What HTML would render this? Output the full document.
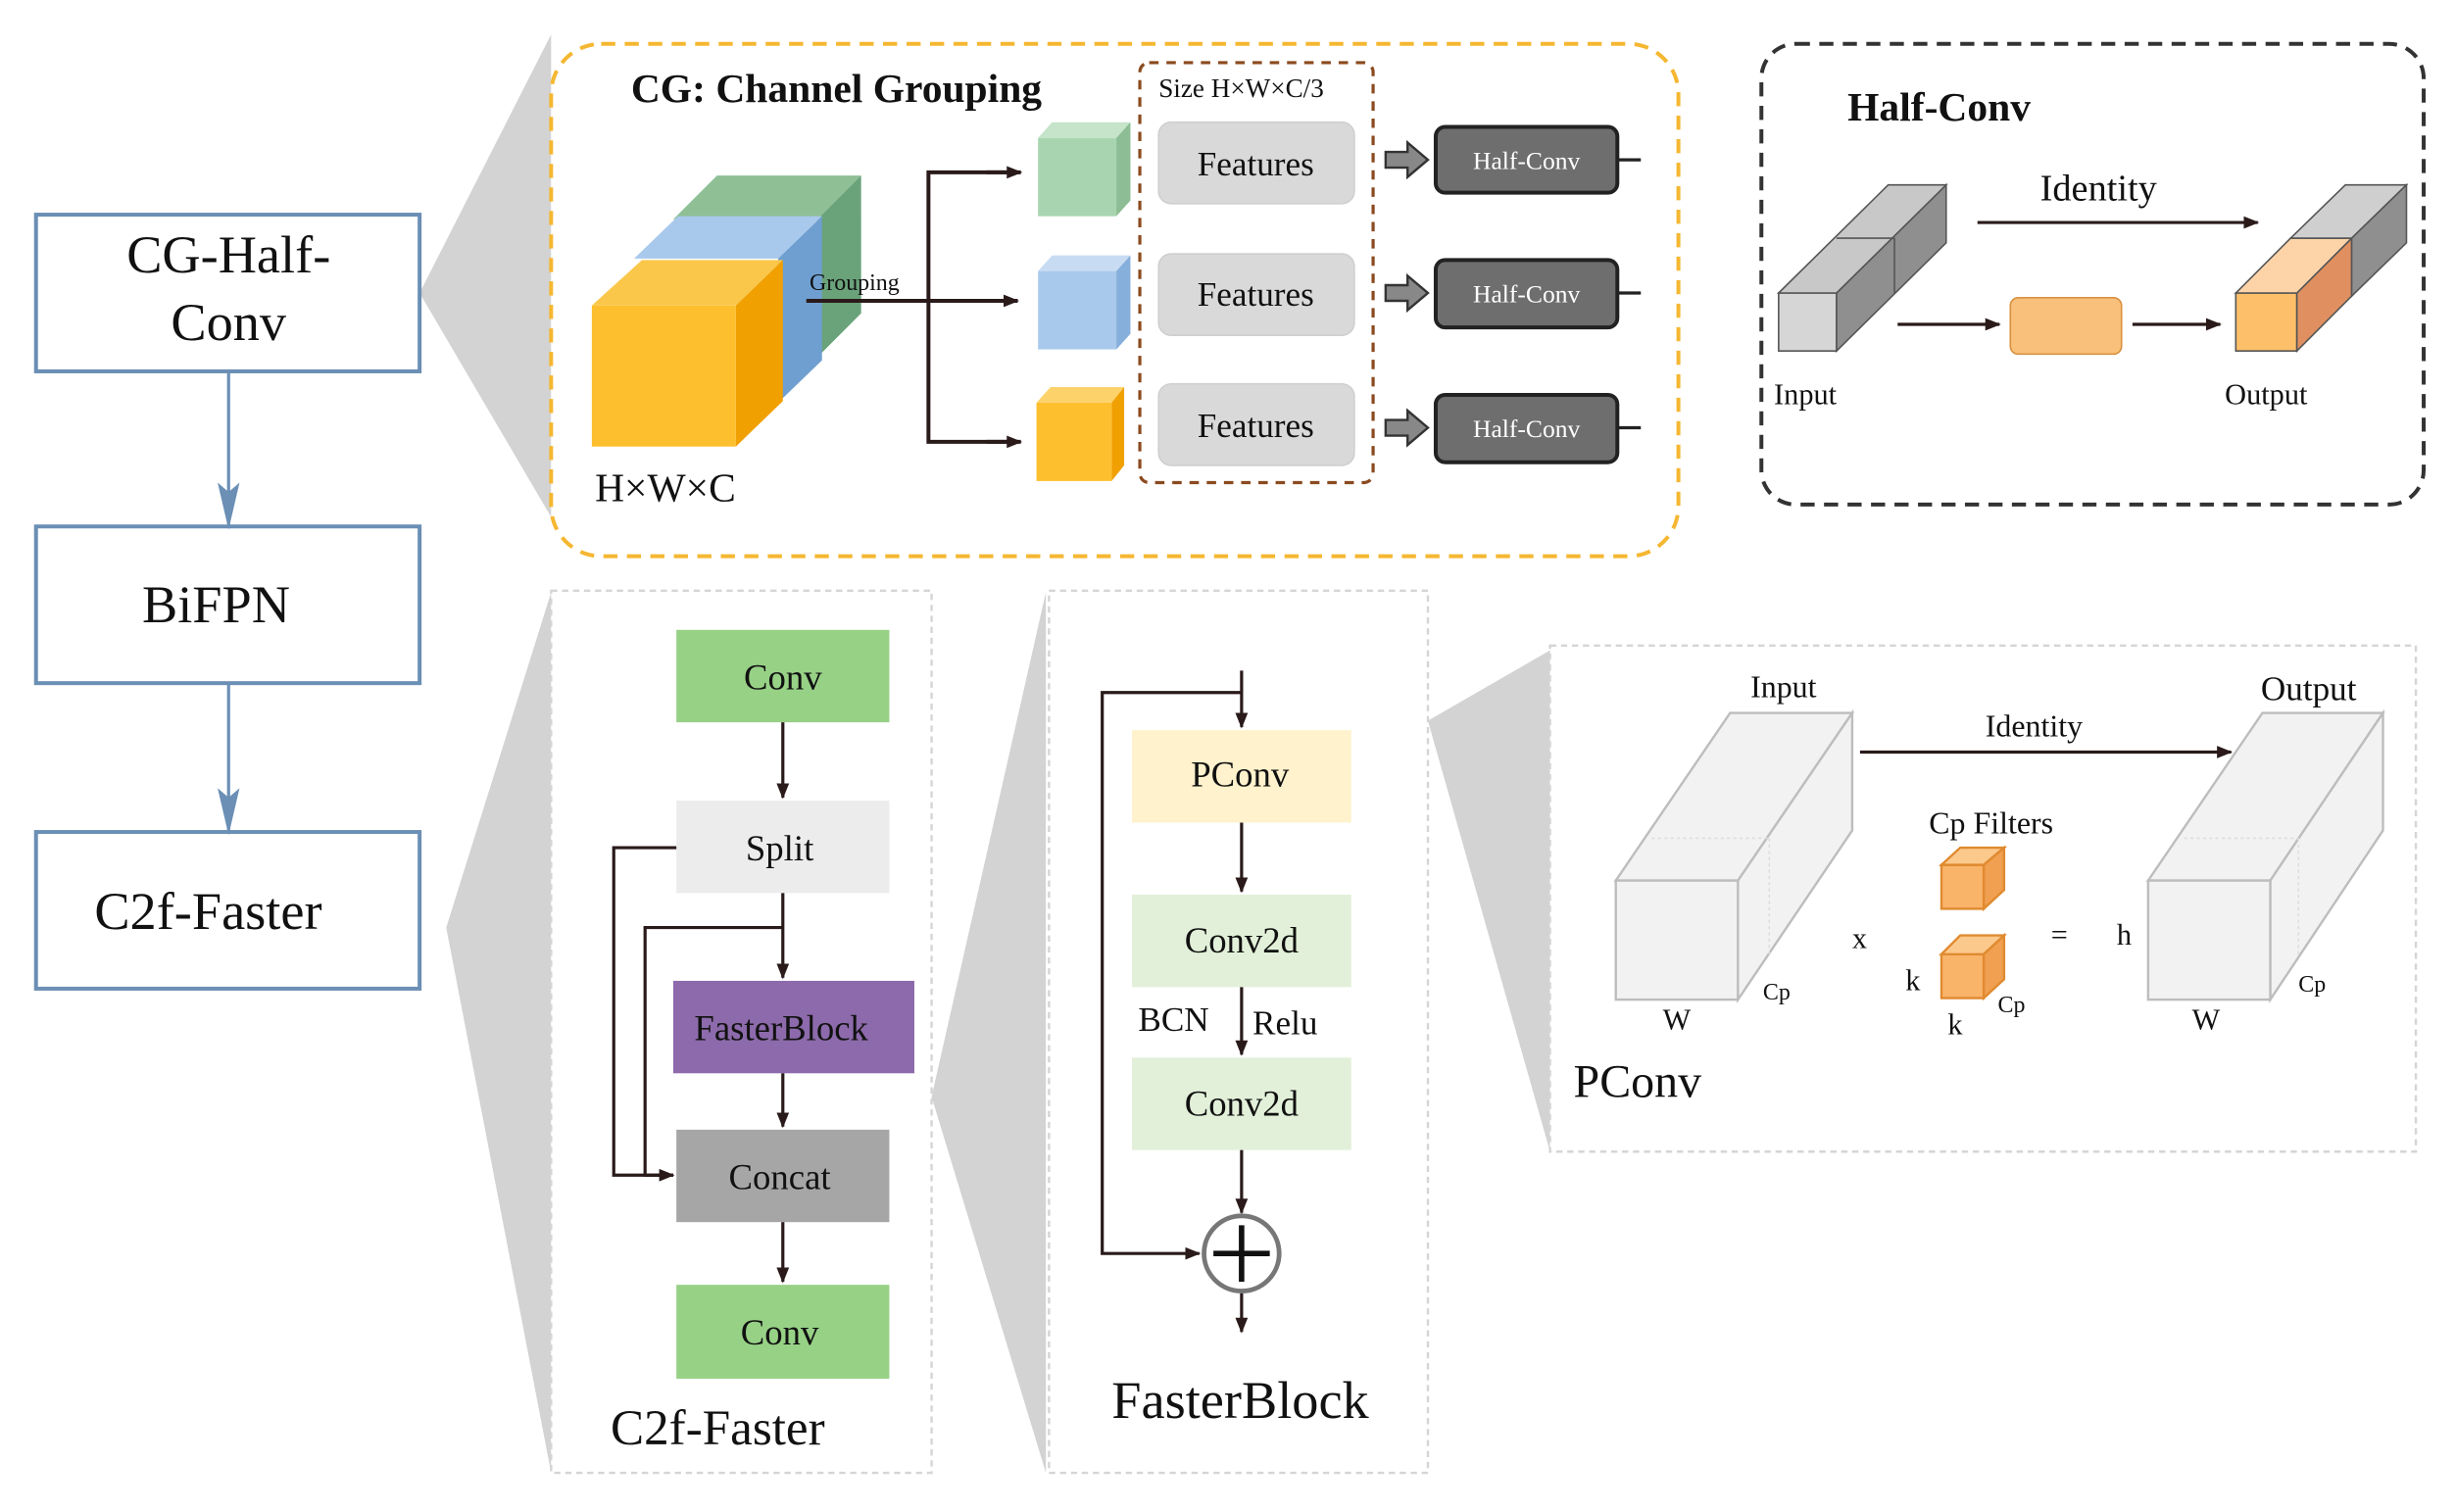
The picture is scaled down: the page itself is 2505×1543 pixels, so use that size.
<!DOCTYPE html>
<html><head><meta charset="utf-8"><style>
html,body{margin:0;padding:0;background:#fff;}
svg{display:block;}
svg text{font-family:"Liberation Serif","DejaVu Serif",serif;fill:#111;}
</style></head><body>
<svg width="2505" height="1543" viewBox="0 0 1568 965" preserveAspectRatio="none" xmlns="http://www.w3.org/2000/svg" font-family="Liberation Serif, serif">
<defs>
<marker id="ab" markerWidth="10" markerHeight="10" refX="9" refY="5" orient="auto" markerUnits="userSpaceOnUse"><path d="M0,1 L10,5 L0,9 z" fill="#2a1a1a"/></marker>
<marker id="abl" markerWidth="30" markerHeight="14" refX="28" refY="7" orient="auto" markerUnits="userSpaceOnUse"><path d="M0,0 L30,7 L0,14 L6,7 z" fill="#6b8fb5"/></marker>
</defs>
<polygon points="268,187 352,22 352,330" fill="#d3d3d3"/>
<polygon points="285,592 352,378 352,940" fill="#d3d3d3"/>
<polygon points="595,700 668,378 668,940" fill="#d3d3d3"/>
<polygon points="912,460 990,415 990,735" fill="#d3d3d3"/>

<g fill="#fff" stroke="#6b8fb5" stroke-width="2.5">
<rect x="23" y="137" width="245" height="100"/>
<rect x="23" y="336" width="245" height="100"/>
<rect x="23" y="531" width="245" height="100"/>
</g>
<line x1="146" y1="237" x2="146" y2="336" stroke="#6b8fb5" stroke-width="2" marker-end="url(#abl)"/>
<line x1="146" y1="436" x2="146" y2="531" stroke="#6b8fb5" stroke-width="2" marker-end="url(#abl)"/>
<text x="146" y="174" font-size="34" text-anchor="middle">CG-Half-</text>
<text x="146" y="217" font-size="34" text-anchor="middle">Conv</text>
<text x="138" y="397" font-size="34" text-anchor="middle">BiFPN</text>
<text x="133" y="593" font-size="34" text-anchor="middle">C2f-Faster</text>

<rect x="352" y="28" width="720" height="327" rx="32" fill="#fff" stroke="#f5b731" stroke-width="2.5" stroke-dasharray="9,6"/>
<text x="403" y="65" font-size="26" font-weight="bold">CG: Channel Grouping</text>
<polygon points="430,140 458,112 550,112 522,140" fill="#8fbf95"/>
<polygon points="522,140 550,112 550,200 522,228" fill="#6aa37a"/>
<polygon points="405,165 433,138 525,138 497,165" fill="#a9c9ec"/>
<polygon points="497,165 525,138 525,230 497,257" fill="#6f9fd0"/>
<polygon points="378,195 410,166 500,166 470,195" fill="#fbc74a"/>
<polygon points="470,195 500,166 500,256 470,285" fill="#f0a000"/>
<rect x="378" y="195" width="92" height="90" fill="#fdbf2d"/>
<text x="517" y="185" font-size="15">Grouping</text>
<line x1="515" y1="192" x2="650" y2="192" stroke="#2a1a1a" stroke-width="2.5" marker-end="url(#ab)"/>
<polyline points="650,110 593,110 593,282 650,282" fill="none" stroke="#2a1a1a" stroke-width="2.5"/>
<line x1="630" y1="110" x2="652" y2="110" stroke="#2a1a1a" stroke-width="2.5" marker-end="url(#ab)"/>
<line x1="630" y1="282" x2="652" y2="282" stroke="#2a1a1a" stroke-width="2.5" marker-end="url(#ab)"/>
<rect x="663" y="88" width="50" height="50" fill="#a8d5b0"/><polygon points="663,88 672,78 722,78 713,88" fill="#c5e4c9"/><polygon points="713,88 722,78 722,128 713,138" fill="#8cbd94"/>
<rect x="663" y="173" width="50" height="50" fill="#a9c9ec"/><polygon points="663,173 672,163 722,163 713,173" fill="#c7dcf3"/><polygon points="713,173 722,163 722,213 713,223" fill="#86afdc"/>
<rect x="662" y="257" width="48" height="50" fill="#fdbf2d"/><polygon points="662,257 671,247 718,247 710,257" fill="#fed26a"/><polygon points="710,257 718,247 718,297 710,307" fill="#f0a000"/>
<rect x="728" y="40" width="149" height="268" rx="6" fill="none" stroke="#8b4a1f" stroke-width="2" stroke-dasharray="6,5"/>
<text x="740" y="62" font-size="17">Size H×W×C/3</text>
<g fill="#d9d9d9" stroke="#cfcfcf"><rect x="740" y="78" width="125" height="52" rx="8"/><rect x="740" y="162" width="125" height="52" rx="8"/><rect x="740" y="245" width="125" height="52" rx="8"/></g>
<text x="802" y="112" font-size="22" text-anchor="middle">Features</text>
<text x="802" y="195" font-size="22" text-anchor="middle">Features</text>
<text x="802" y="279" font-size="22" text-anchor="middle">Features</text>
<g fill="#888" stroke="#333" stroke-width="1.5">
<path d="M885,97 h14 v-6 l13,11 l-13,11 v-6 h-14 z"/>
<path d="M885,182 h14 v-6 l13,11 l-13,11 v-6 h-14 z"/>
<path d="M885,268 h14 v-6 l13,11 l-13,11 v-6 h-14 z"/>
</g>
<g fill="#6e6e6e" stroke="#222" stroke-width="2.5"><rect x="917" y="81" width="116" height="42" rx="6"/><rect x="917" y="166" width="116" height="43" rx="6"/><rect x="917" y="252" width="116" height="43" rx="6"/></g>
<g stroke="#222" stroke-width="2"><line x1="1033" y1="102" x2="1048" y2="102"/><line x1="1033" y1="187" x2="1048" y2="187"/><line x1="1033" y1="273" x2="1048" y2="273"/></g>
<g font-size="16" text-anchor="middle"><text x="975" y="108" style="fill:#fff">Half-Conv</text><text x="975" y="193" style="fill:#fff">Half-Conv</text><text x="975" y="279" style="fill:#fff">Half-Conv</text></g>
<text x="380" y="320" font-size="26">H×W×C</text>

<rect x="1125" y="28" width="423" height="294" rx="22" fill="#fff" stroke="#333" stroke-width="2.5" stroke-dasharray="9,6"/>
<text x="1180" y="77" font-size="26" font-weight="bold">Half-Conv</text>
<g stroke="#555" stroke-width="1">
<rect x="1136" y="187" width="37" height="37" fill="#d6d6d6"/>
<polygon points="1173,187 1243,118 1243,155 1173,224" fill="#8f8f8f"/>
<polygon points="1136,187 1206,118 1243,118 1173,187" fill="#c8c8c8"/>
<line x1="1173" y1="152" x2="1210" y2="152"/><line x1="1210" y1="152" x2="1210" y2="187"/>
<rect x="1428" y="187" width="39" height="37" fill="#fdbf6a"/>
<polygon points="1467,187 1502,152 1502,189 1467,224" fill="#e09060"/>
<polygon points="1428,187 1463,152 1502,152 1467,187" fill="#fdd4a8"/>
<polygon points="1463,152 1498,118 1537,118 1502,152" fill="#cfcfcf"/>
<polygon points="1502,152 1537,118 1537,155 1502,189" fill="#8f8f8f"/>
</g>
<rect x="1284" y="190" width="71" height="36" rx="5" fill="#f8c07a" stroke="#d89040"/>
<line x1="1263" y1="142" x2="1442" y2="142" stroke="#2a1a1a" stroke-width="2" marker-end="url(#ab)"/>
<text x="1303" y="128" font-size="24">Identity</text>
<line x1="1212" y1="207" x2="1277" y2="207" stroke="#2a1a1a" stroke-width="2" marker-end="url(#ab)"/>
<line x1="1362" y1="207" x2="1418" y2="207" stroke="#2a1a1a" stroke-width="2" marker-end="url(#ab)"/>
<text x="1133" y="258" font-size="19">Input</text>
<text x="1421" y="258" font-size="19">Output</text>

<rect x="352" y="377" width="243" height="563" fill="#fff" stroke="#d5d5d5" stroke-width="1.5" stroke-dasharray="4,3"/>
<rect x="432" y="402" width="136" height="59" fill="#97d186"/>
<rect x="432" y="511" width="136" height="59" fill="#ececec"/>
<rect x="430" y="626" width="154" height="59" fill="#8c6aab"/>
<rect x="432" y="721" width="136" height="59" fill="#a6a6a6"/>
<rect x="432" y="820" width="136" height="60" fill="#97d186"/>
<g font-size="23" text-anchor="middle"><text x="500" y="440">Conv</text><text x="498" y="549">Split</text><text x="499" y="664">FasterBlock</text><text x="498" y="759">Concat</text><text x="498" y="858">Conv</text></g>
<g stroke="#2a1a1a" stroke-width="2" fill="none">
<line x1="500" y1="461" x2="500" y2="509" marker-end="url(#ab)"/>
<line x1="500" y1="570" x2="500" y2="624" marker-end="url(#ab)"/>
<line x1="500" y1="685" x2="500" y2="719" marker-end="url(#ab)"/>
<line x1="500" y1="780" x2="500" y2="818" marker-end="url(#ab)"/>
<polyline points="432,541 392,541 392,750 430,750" marker-end="url(#ab)"/>
<polyline points="500,592 412,592 412,750 430,750"/>
</g>
<text x="390" y="922" font-size="32">C2f-Faster</text>

<rect x="670" y="377" width="242" height="563" fill="#fff" stroke="#d5d5d5" stroke-width="1.5" stroke-dasharray="4,3"/>
<rect x="723" y="466" width="140" height="59" fill="#fff2cc"/>
<rect x="723" y="571" width="140" height="59" fill="#e2f0d9"/>
<rect x="723" y="675" width="140" height="59" fill="#e2f0d9"/>
<g font-size="23" text-anchor="middle"><text x="792" y="502">PConv</text><text x="793" y="608">Conv2d</text><text x="793" y="712">Conv2d</text></g>
<text x="727" y="658" font-size="22">BCN</text><text x="800" y="660" font-size="22">Relu</text>
<g stroke="#2a1a1a" stroke-width="2" fill="none">
<line x1="793" y1="428" x2="793" y2="464" marker-end="url(#ab)"/>
<polyline points="793,442 704,442 704,800 766,800" marker-end="url(#ab)"/>
<line x1="793" y1="525" x2="793" y2="569" marker-end="url(#ab)"/>
<line x1="793" y1="630" x2="793" y2="673" marker-end="url(#ab)"/>
<line x1="793" y1="734" x2="793" y2="774" marker-end="url(#ab)"/>
<line x1="793" y1="824" x2="793" y2="850" marker-end="url(#ab)"/>
</g>
<circle cx="793" cy="800" r="24" fill="#fff" stroke="#777" stroke-width="3"/>
<line x1="775" y1="800" x2="811" y2="800" stroke="#111" stroke-width="3.5"/>
<line x1="793" y1="782" x2="793" y2="818" stroke="#111" stroke-width="3.5"/>
<text x="710" y="905" font-size="34">FasterBlock</text>

<rect x="990" y="412" width="553" height="323" fill="#fff" stroke="#d5d5d5" stroke-width="1.5" stroke-dasharray="4,3"/>
<g stroke="#bdbdbd" stroke-width="1.5" fill="#f2f2f2">
<polygon points="1032,562 1105,455 1183,455 1110,562"/>
<polygon points="1110,562 1183,455 1183,530 1110,638"/>
<rect x="1032" y="562" width="78" height="76"/>
<polygon points="1372,562 1445,455 1522,455 1450,562"/>
<polygon points="1450,562 1522,455 1522,530 1450,638"/>
<rect x="1372" y="562" width="78" height="76"/>
</g>
<g stroke="#ddd" stroke-width="1" stroke-dasharray="2,2"><line x1="1055" y1="535" x2="1130" y2="535"/><line x1="1130" y1="535" x2="1130" y2="610"/><line x1="1395" y1="535" x2="1468" y2="535"/><line x1="1468" y1="535" x2="1468" y2="610"/></g>
<line x1="1188" y1="480" x2="1425" y2="480" stroke="#2a1a1a" stroke-width="2" marker-end="url(#ab)"/>
<text x="1268" y="470" font-size="20">Identity</text>
<text x="1118" y="445" font-size="20">Input</text>
<text x="1444" y="447" font-size="22">Output</text>
<text x="1232" y="532" font-size="20">Cp Filters</text>
<g stroke="#e08a30" stroke-width="1.5">
<rect x="1240" y="552" width="27" height="28" fill="#f9b46a"/><polygon points="1240,552 1252,541 1280,541 1267,552" fill="#fcc98c"/><polygon points="1267,552 1280,541 1280,568 1267,580" fill="#f0a050"/>
<rect x="1240" y="609" width="27" height="28" fill="#f9b46a"/><polygon points="1240,609 1252,597 1280,597 1267,609" fill="#fcc98c"/><polygon points="1267,609 1280,597 1280,625 1267,637" fill="#f0a050"/>
</g>
<g font-size="19"><text x="1183" y="605">x</text><text x="1310" y="603">=</text><text x="1352" y="603">h</text><text x="1217" y="632">k</text><text x="1244" y="660">k</text><text x="1062" y="657">W</text><text x="1400" y="657">W</text></g>
<g font-size="15"><text x="1126" y="638">Cp</text><text x="1276" y="646">Cp</text><text x="1468" y="633">Cp</text></g>
<text x="1005" y="700" font-size="30">PConv</text>
</svg>
</body></html>
